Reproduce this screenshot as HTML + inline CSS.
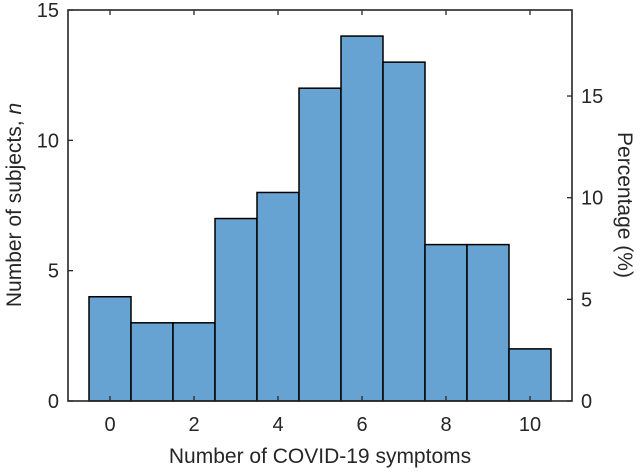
<!DOCTYPE html>
<html><head><meta charset="utf-8"><style>
html,body{margin:0;padding:0;background:#fff}
text{font-family:"Liberation Sans",sans-serif;fill:#262626}
</style></head><body>
<svg id="chart" width="640" height="471" viewBox="0 0 640 471" xmlns="http://www.w3.org/2000/svg"></svg>
<script>
const categories=[0,1,2,3,4,5,6,7,8,9,10];
const counts=[4,3,3,7,8,12,14,13,6,6,2];
const xTicks=[0,2,4,6,8,10];
const yTicks=[0,5,10,15];
const pctTicks=[0,5,10,15];
const L=68,R=572,T=10,B=401;
const xMin=-1,xMax=11,yMax=15;
const total=counts.reduce((a,b)=>a+b,0);
const pctMax=yMax/total*100;
const sx=v=>L+(v-xMin)/(xMax-xMin)*(R-L);
const sy=v=>B-v/yMax*(B-T);
const sp=p=>B-p/pctMax*(B-T);
const svg=document.getElementById('chart');
const NS='http://www.w3.org/2000/svg';
function mk(tag,attrs,txt){const e=document.createElementNS(NS,tag);for(const k in attrs)e.setAttribute(k,attrs[k]);if(txt!==undefined)e.textContent=txt;svg.appendChild(e);return e;}
categories.forEach((c,i)=>{
  const b=mk('rect',{x:sx(c-0.5),y:sy(counts[i]),width:sx(c+0.5)-sx(c-0.5),height:B-sy(counts[i]),fill:'#66a3d3',stroke:'#000','stroke-width':1.5});
  
  
});
const box=mk('rect',{x:L,y:T,width:R-L,height:B-T,fill:'none',stroke:'#262626','stroke-width':1.6});


xTicks.forEach(t=>{
  const x=sx(t);
  mk('line',{x1:x,x2:x,y1:B,y2:B-5,stroke:'#262626','stroke-width':1.3});
  mk('line',{x1:x,x2:x,y1:T,y2:T+5,stroke:'#262626','stroke-width':1.3});
  const e=mk('text',{x:x,y:B+30,'text-anchor':'middle','font-size':20},t);
  
  
});
yTicks.forEach(t=>{
  const y=sy(t);
  mk('line',{x1:L,x2:L+5,y1:y,y2:y,stroke:'#262626','stroke-width':1.3});
  const e=mk('text',{x:L-9,y:y+7,'text-anchor':'end','font-size':20},t);
  
  
});
pctTicks.forEach(t=>{
  const y=sp(t);
  mk('line',{x1:R,x2:R-5,y1:y,y2:y,stroke:'#262626','stroke-width':1.3});
  const e=mk('text',{x:R+9,y:y+7,'text-anchor':'start','font-size':20},t);
  
  
});
</script>
<svg style="position:absolute;left:0;top:0" width="640" height="471" xmlns="http://www.w3.org/2000/svg">
<text x="320" y="463" text-anchor="middle" font-size="21">Number of COVID-19 symptoms</text>
<text transform="translate(21,205) rotate(-90)" text-anchor="middle" font-size="21">Number of subjects, <tspan font-style="italic">n</tspan></text>
<text transform="translate(618,205) rotate(90)" text-anchor="middle" font-size="21">Percentage (%)</text>
</svg>
</body></html>
